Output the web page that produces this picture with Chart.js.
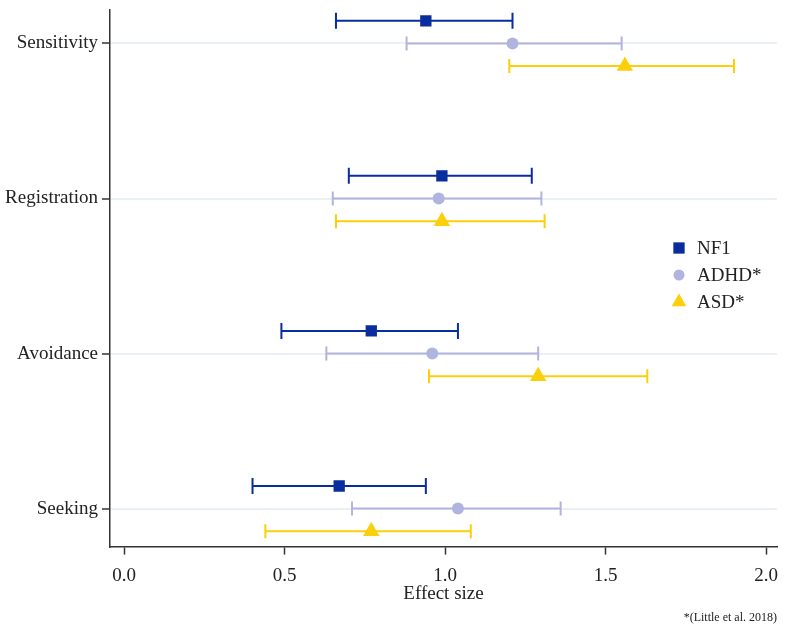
<!DOCTYPE html>
<html>
<head>
<meta charset="utf-8">
<script src="https://cdn.jsdelivr.net/npm/chart.js@4/dist/chart.umd.min.js"></script>
<style>
  body { margin: 0; background: #fff; }
</style>
</head>
<body>
<canvas id="chart" width="787" height="628"></canvas>
<script>
// Scales of the sensory profile, top to bottom
const categories = ['Sensitivity', 'Registration', 'Avoidance', 'Seeking'];
const groups = ['NF1', 'ADHD*', 'ASD*'];

// Effect sizes with lower / upper confidence limits
const nf1Mean = [0.94, 0.99, 0.77, 0.67];
const nf1Low = [0.66, 0.70, 0.49, 0.40];
const nf1High = [1.21, 1.27, 1.04, 0.94];

const adhdMean = [1.21, 0.98, 0.96, 1.04];
const adhdLow = [0.88, 0.65, 0.63, 0.71];
const adhdHigh = [1.55, 1.30, 1.29, 1.36];

const asdMean = [1.56, 0.99, 1.29, 0.77];
const asdLow = [1.20, 0.66, 0.95, 0.44];
const asdHigh = [1.90, 1.31, 1.63, 1.08];

const xTicks = [0, 0.5, 1, 1.5, 2];

const colors = ['#0a2d9e', '#b1b4de', '#fbcf0a'];
const offsets = [0.146, 0, -0.146];
const serif = "'Liberation Serif', 'Times New Roman', serif";

// category slot: Sensitivity sits at 4, Seeking at 1
function slot(i) { return categories.length - i; }

function makeSet(gi, mean, low, high, style, radius) {
  return {
    label: groups[gi],
    data: mean.map((v, i) => ({ x: v, y: slot(i) + offsets[gi], lo: low[i], hi: high[i] })),
    backgroundColor: colors[gi],
    borderColor: colors[gi],
    pointStyle: style,
    pointRadius: radius,
    pointHoverRadius: radius,
    borderWidth: 0,
    capSize: gi === 0 ? 8 : 7
  };
}

// horizontal whiskers drawn under the markers
const errorBars = {
  id: 'errorBars',
  beforeDatasetsDraw(chart) {
    const ctx = chart.ctx;
    const xs = chart.scales.x, ys = chart.scales.y;
    chart.data.datasets.forEach(ds => {
      ctx.save();
      ctx.strokeStyle = ds.borderColor;
      ctx.lineWidth = 2;
      ds.data.forEach(p => {
        const y = ys.getPixelForValue(p.y);
        const x1 = xs.getPixelForValue(p.lo), x2 = xs.getPixelForValue(p.hi);
        ctx.beginPath();
        ctx.moveTo(x1, y); ctx.lineTo(x2, y);
        ctx.moveTo(x1, y - ds.capSize); ctx.lineTo(x1, y + ds.capSize);
        ctx.moveTo(x2, y - ds.capSize); ctx.lineTo(x2, y + ds.capSize);
        ctx.stroke();
      });
      ctx.restore();
    });
  }
};

// legend placed inside the plot, right side
const innerLegend = {
  id: 'innerLegend',
  afterDraw(chart) {
    const ctx = chart.ctx;
    const left = 679, top = 248, step = 27;
    ctx.save();
    ctx.font = '19px ' + serif;
    ctx.textBaseline = 'middle';
    chart.data.datasets.forEach((ds, i) => {
      const y = top + i * step;
      ctx.fillStyle = ds.backgroundColor;
      Chart.helpers.drawPoint(ctx, {
        pointStyle: ds.pointStyle, radius: ds.legendRadius, borderWidth: 0
      }, left, y);
      ctx.fillStyle = '#222';
      ctx.fillText(ds.label, left + 18, y + 1);
    });
    ctx.restore();
  }
};

const sets = [
  makeSet(0, nf1Mean, nf1Low, nf1High, 'rect', 8),
  makeSet(1, adhdMean, adhdLow, adhdHigh, 'circle', 6),
  makeSet(2, asdMean, asdLow, asdHigh, 'triangle', 9.5)
];
sets[0].legendRadius = 8; sets[1].legendRadius = 5.5; sets[2].legendRadius = 8.5;

new Chart(document.getElementById('chart'), {
  type: 'scatter',
  data: { datasets: sets },
  options: {
    responsive: false,
    animation: false,
    layout: { padding: { top: 1, right: 10, left: 0, bottom: 0 } },
    plugins: {
      legend: { display: false },
      tooltip: { enabled: false },
      subtitle: {
        display: true,
        position: 'bottom',
        align: 'end',
        text: '*(Little et al. 2018)',
        color: '#222',
        font: { family: serif, size: 12 },
        padding: { top: 0, bottom: 3 }
      }
    },
    scales: {
      x: {
        type: 'linear',
        min: -0.044,
        max: 2.034,
        afterBuildTicks: s => { s.ticks = xTicks.map(v => ({ value: v })); },
        afterFit: s => { s.height = 64; s.paddingLeft = 0; s.paddingRight = 0; },
        ticks: {
          color: '#222',
          font: { family: serif, size: 19 },
          padding: 10,
          callback: v => v.toFixed(1)
        },
        grid: { drawOnChartArea: false, tickLength: 8, tickColor: '#333', tickWidth: 1.5 },
        border: { color: '#333', width: 1.5 },
        title: {
          display: true,
          text: 'Effect size',
          color: '#222',
          font: { family: serif, size: 19 },
          padding: { top: 0, bottom: 5 }
        }
      },
      y: {
        type: 'linear',
        min: 0.755,
        max: 4.219,
        afterBuildTicks: s => { s.ticks = categories.map((c, i) => ({ value: slot(i) })); },
        afterFit: s => { s.width = 110; s.paddingTop = 0; s.paddingBottom = 0; },
        ticks: {
          color: '#222',
          font: { family: serif, size: 19 },
          padding: 4,
          callback: v => categories[categories.length - v]
        },
        grid: { color: '#e9f1f4', lineWidth: 2, tickLength: 8, tickColor: '#333', tickWidth: 1.5 },
        border: { color: '#333', width: 1.5 }
      }
    }
  },
  plugins: [errorBars, innerLegend]
});
</script>
</body>
</html>
